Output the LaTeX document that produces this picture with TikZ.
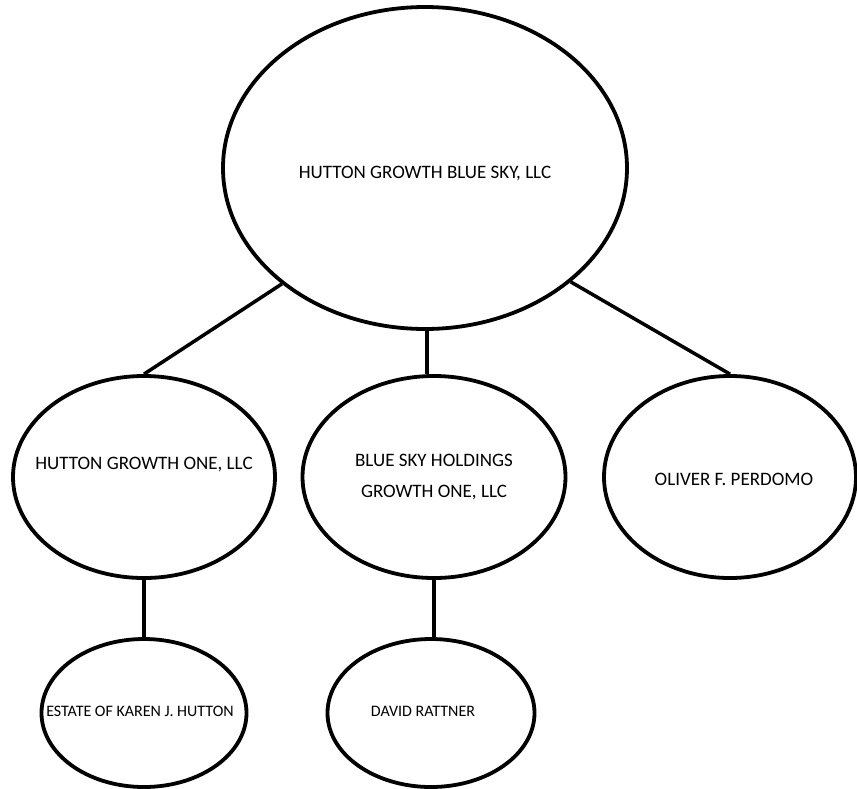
\documentclass[tikz,border=0pt]{standalone}
\usepackage{fontspec}
\setmainfont{Carlito}
\usepackage{tikz}
\usetikzlibrary{shapes.geometric, positioning}

\tikzset{
  entity/.style={ellipse, draw, line width=3.8pt, inner sep=0pt, fill=white},
  owner/.style={line width=3.5pt},
  big/.style={font=\fontsize{19}{31}\selectfont},
  small/.style={font=\fontsize{16}{20}\selectfont}
}

\begin{document}
\begin{tikzpicture}[x=1pt,y=-1pt]
  \useasboundingbox (0,0) rectangle (857,788);
  % top company
  \node[entity, minimum width=404pt, minimum height=322pt,
        label={[big,yshift=-6pt]center:{HUTTON GROWTH BLUE SKY, LLC}}] (top) at (425,168) {};
  % members
  \node[entity, minimum width=262pt, minimum height=202pt,
        label={[big,yshift=12pt]center:{HUTTON GROWTH ONE, LLC}}] (hgone) at (144,477) {};
  \node[entity, minimum width=263pt, minimum height=202pt,
        label={[big,align=center]center:{BLUE SKY HOLDINGS\\GROWTH ONE, LLC}}] (bsh) at (434,477) {};
  \node[entity, minimum width=252pt, minimum height=202pt,
        label={[big,xshift=4pt,yshift=-2pt]center:{OLIVER F. PERDOMO}}] (perdomo) at (730,477) {};
  % owners of the members
  \node[entity, minimum width=205pt, minimum height=148pt,
        label={[small,xshift=-4pt,yshift=2pt]center:{ESTATE OF KAREN J. HUTTON}}] (estate) at (144,713) {};
  \node[entity, minimum width=207pt, minimum height=148pt,
        label={[small,xshift=-8pt,yshift=2pt]center:{DAVID RATTNER}}] (rattner) at (431,713) {};
  % connectors
  \draw[owner] (top.219) -- (hgone.north);
  \draw[owner] ([xshift=2pt]top.south) -- ([xshift=2pt]top.south |- bsh.north);
  \draw[owner] (top.322) -- (perdomo.north);
  \draw[owner] (hgone.south) -- (estate.north);
  \draw[owner] (bsh.south) -- (bsh.south |- rattner.north);
\end{tikzpicture}
\end{document}
